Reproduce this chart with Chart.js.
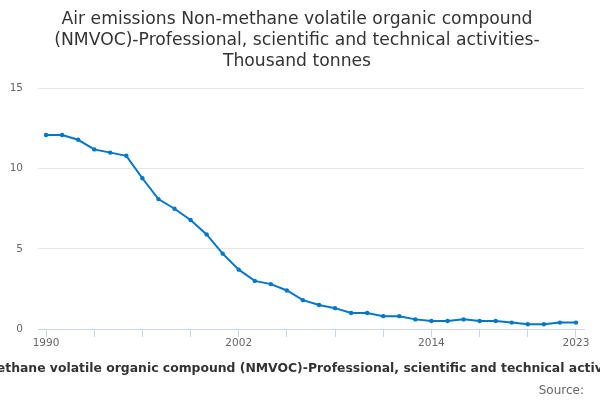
<!DOCTYPE html>
<html>
<head>
<meta charset="utf-8">
<script src="https://cdn.jsdelivr.net/npm/chart.js@4"></script>
<style>
  html, body { margin: 0; padding: 0; background: #fff; }
  #wrap { width: 600px; height: 400px; }
</style>
</head>
<body>
<div id="wrap"><canvas id="myChart"></canvas></div>
<script>
let years = ['1990','1991','1992','1993','1994','1995','1996','1997','1998','1999',
  '2000','2001','2002','2003','2004','2005','2006','2007','2008','2009',
  '2010','2011','2012','2013','2014','2015','2016','2017','2018','2019',
  '2020','2021','2022','2023'];
let emissions = [12.1, 12.1, 11.8, 11.2, 11.0, 10.8, 9.4, 8.1, 7.5, 6.8,
  5.9, 4.7, 3.7, 3.0, 2.8, 2.4, 1.8, 1.5, 1.3, 1.0,
  1.0, 0.8, 0.8, 0.6, 0.5, 0.5, 0.6, 0.5, 0.5, 0.4,
  0.3, 0.3, 0.4, 0.4];
let shownYears = ['1990', '2002', '2014', '2023'];
let yTicks = [0, 5, 10, 15];
let xTitle = 'Non-methane volatile organic compound (NMVOC)-Professional, scientific and technical activities';

let font = 'DejaVu Sans';
let ctx = document.getElementById('myChart').getContext('2d');

// chart.js squashes long axis titles to fit, so draw this one ourselves
let axisTitle = {
  id: 'axisTitle',
  afterDraw: (chart) => {
    let c = chart.ctx;
    let area = chart.chartArea;
    c.save();
    c.font = 'bold 12.4px "' + font + '"';
    c.fillStyle = '#333333';
    c.textAlign = 'center';
    c.textBaseline = 'middle';
    c.fillText(xTitle, area.left + 254, area.bottom + 40);
    c.restore();
  }
};

let myChart = new Chart(ctx, {
  type: 'line',
  data: {
    labels: years,
    datasets: [{
      label: 'NMVOC',
      data: emissions,
      borderColor: '#0077c8',
      backgroundColor: '#0077c8',
      borderWidth: 2,
      pointRadius: 2.2,
      pointBorderWidth: 0,
      pointHoverRadius: 3,
      tension: 0
    }]
  },
  options: {
    responsive: true,
    maintainAspectRatio: false,
    animation: false,
    layout: { padding: { left: 10, right: 16, top: 0, bottom: 0 } },
    plugins: {
      legend: { display: false },
      tooltip: { enabled: false },
      title: {
        display: true,
        text: ['Air emissions Non-methane volatile organic compound',
          '(NMVOC)-Professional, scientific and technical activities-',
          'Thousand tonnes'],
        color: '#333333',
        font: { family: font, size: 17.2, weight: 'normal', lineHeight: 1.23 },
        padding: { top: 9, bottom: 16 }
      },
      subtitle: {
        display: true,
        position: 'bottom',
        align: 'end',
        text: 'Source:',
        color: '#666666',
        font: { family: font, size: 12 },
        padding: { top: 34, bottom: 2 }
      }
    },
    scales: {
      x: {
        offset: true,
        afterBuildTicks: (scale) => {
          scale.ticks = scale.ticks.filter(t => t.value % 3 === 0);
        },
        ticks: {
          autoSkip: false,
          maxRotation: 0,
          color: '#666666',
          font: { family: font, size: 10.5 },
          padding: 0,
          callback: function (value) {
            let y = years[value];
            return shownYears.includes(y) ? y : '';
          }
        },
        grid: {
          drawOnChartArea: false,
          drawTicks: true,
          tickLength: 8,
          color: '#ccd6eb'
        },
        border: { display: true, color: '#ccd6eb' }
      },
      y: {
        min: 0,
        max: 15,
        afterBuildTicks: (scale) => {
          scale.ticks = yTicks.map(v => ({ value: v }));
        },
        afterFit: (scale) => {
          scale.width = 28;
        },
        ticks: {
          color: '#666666',
          font: { family: font, size: 10.5 },
          padding: 15
        },
        grid: {
          color: '#e6e6e6',
          drawTicks: false
        },
        border: { display: false }
      }
    }
  },
  plugins: [axisTitle]
});
</script>
</body>
</html>
